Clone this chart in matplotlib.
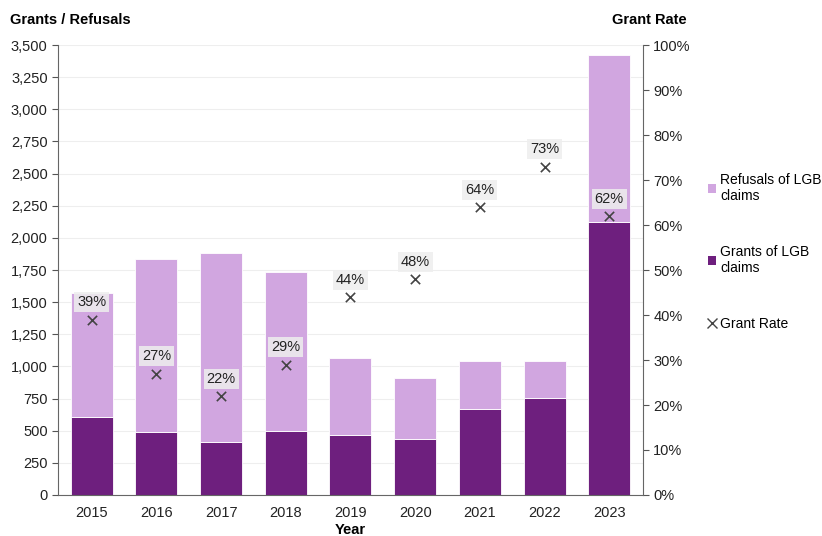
import matplotlib.pyplot as plt
from matplotlib.lines import Line2D
from matplotlib.patches import Patch
from matplotlib.ticker import FuncFormatter, MultipleLocator

plt.rcParams["font.family"] = ["Liberation Sans", "DejaVu Sans"]

years = ["2015", "2016", "2017", "2018", "2019", "2020", "2021", "2022", "2023"]
grants = [607, 490, 415, 495, 470, 432, 672, 758, 2125]
refusals = [964, 1346, 1467, 1239, 596, 478, 370, 284, 1300]
grant_rate = [39, 27, 22, 29, 44, 48, 64, 73, 62]

REFUSAL_COL = "#d1a6e0"
GRANT_COL = "#6e1f7e"

fig = plt.figure(figsize=(8.22, 5.36), dpi=100)
ax = fig.add_axes([0.0706, 0.0765, 0.7115, 0.8395])
x = range(len(years))

ax.bar(x, grants, width=0.65, color=GRANT_COL, edgecolor="white", linewidth=0.6, zorder=2)
ax.bar(x, refusals, width=0.65, bottom=grants, color=REFUSAL_COL,
       edgecolor="white", linewidth=0.6, zorder=2)

ax.set_ylim(0, 3500)
ax.set_xlim(-0.52, len(years) - 0.48)
ax.yaxis.set_major_locator(MultipleLocator(250))
ax.yaxis.set_major_formatter(FuncFormatter(lambda v, _: f"{v:,.0f}"))
ax.grid(axis="y", color="#eeeeee", linewidth=0.8, zorder=0)
ax.set_axisbelow(True)
ax.set_xticks(list(x))
ax.set_xticklabels(years)
ax.tick_params(axis="x", length=0, labelsize=10.5, pad=8, colors="#222222")
ax.tick_params(axis="y", length=4, labelsize=10.5, colors="#222222", color="#555555")
for s in ["top", "right"]:
    ax.spines[s].set_visible(False)
for s in ["left", "bottom"]:
    ax.spines[s].set_color("#666666")
ax.set_xlabel("Year", fontsize=10.5, fontweight="bold", labelpad=2)

ax2 = ax.twinx()
ax2.set_ylim(0, 100)
ax2.yaxis.set_major_locator(MultipleLocator(10))
ax2.yaxis.set_major_formatter(FuncFormatter(lambda v, _: f"{v:.0f}%"))
ax2.tick_params(axis="y", length=4, labelsize=10.5, colors="#222222", color="#555555")
for s in ["top", "left", "bottom"]:
    ax2.spines[s].set_visible(False)
ax2.spines["right"].set_color("#666666")

ax2.scatter(x, grant_rate, marker="x", s=45, color="#444444", linewidths=1.2, zorder=4)
for xi, r in zip(x, grant_rate):
    ax2.annotate(f"{r}%", (xi, r), xytext=(0, 12.5), textcoords="offset points",
                 ha="center", va="center", fontsize=10.5, color="#222222",
                 bbox=dict(boxstyle="square,pad=0.2", facecolor="#eeeeee",
                           edgecolor="none", alpha=0.85), zorder=5)

fig.text(0.012, 0.962, "Grants / Refusals", fontsize=10.5, fontweight="bold", va="center")
fig.text(0.835, 0.962, "Grant Rate", fontsize=10.5, fontweight="bold", va="center", ha="right")

handles = [
    Patch(facecolor=REFUSAL_COL, label="Refusals of LGB\nclaims"),
    Patch(facecolor=GRANT_COL, label="Grants of LGB\nclaims"),
    Line2D([], [], marker="x", linestyle="none", color="#444444", markersize=7,
           label="Grant Rate"),
]
fig.legend(handles=handles, loc="center left", bbox_to_anchor=(0.846, 0.53),
           frameon=False, fontsize=10, labelspacing=3.0, handlelength=0.6,
           handleheight=0.6, handletextpad=0.3)

fig.savefig("out.png", dpi=100)
